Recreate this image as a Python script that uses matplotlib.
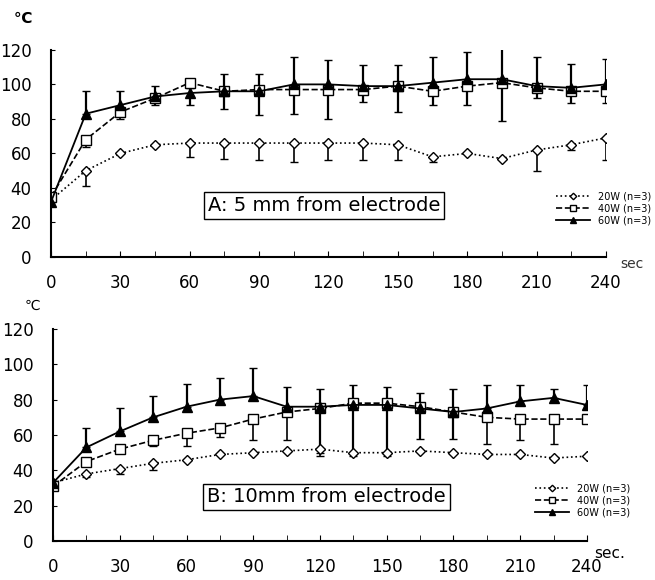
import numpy as np
import matplotlib
matplotlib.use("Agg")
import matplotlib.pyplot as plt
from matplotlib.ticker import MultipleLocator

nan = np.nan
t = [0, 15, 30, 45, 60, 75, 90, 105, 120, 135, 150, 165, 180, 195, 210, 225, 240]
labels = ["20W (n=3)", "40W (n=3)", "60W (n=3)"]

# ── Panel A: 5 mm from electrode ──────────────────────────────────────────────
a_20w = [33, 50, 60, 65, 66, 66, 66, 66, 66, 66, 65, 58, 60, 57, 62, 65, 69]
a_40w = [35, 68, 84, 92, 101, 96, 97, 97, 97, 97, 99, 96, 99, 101, 98, 96, 96]
a_60w = [32, 83, 88, 93, 95, 96, 96, 100, 100, 99, 99, 101, 103, 103, 99, 98, 100]
a_20w_lo = [nan, 41, nan, nan, 58, 57, 56, 55, 56, 56, 56, 55, nan, nan, 50, 62, 56]
a_40w_lo = [nan, 64, 80, nan, nan, nan, nan, nan, nan, nan, nan, nan, nan, nan, nan, nan, nan]
a_60w_hi = [nan, 96, 96, 99, 98, 106, 106, 116, 114, 111, 111, 116, 119, 122, 116, 112, 115]
a_60w_lo = [nan, nan, 82, 88, 88, 86, 82, 83, 80, 90, 84, 88, 88, 79, 92, 89, 89]

# ── Panel B: 10 mm from electrode ─────────────────────────────────────────────
b_20w = [33, 38, 41, 44, 46, 49, 50, 51, 52, 50, 50, 51, 50, 49, 49, 47, 48]
b_40w = [31, 45, 52, 57, 61, 64, 69, 73, 75, 78, 78, 76, 73, 70, 69, 69, 69]
b_60w = [33, 53, 62, 70, 76, 80, 82, 76, 76, 77, 77, 75, 73, 75, 79, 81, 77]
b_20w_lo = [nan, 36, 38, 40, nan, nan, nan, nan, 48, nan, nan, nan, nan, nan, nan, nan, nan]
b_40w_lo = [nan, nan, nan, 54, 54, 59, 57, 57, nan, nan, nan, nan, nan, 55, 57, 55, nan]
b_60w_hi = [nan, 64, 75, 82, 89, 92, 98, 87, 86, 88, 87, 84, 86, 88, 88, 86, 88]
b_60w_lo = [nan, nan, nan, nan, nan, nan, nan, nan, 50, 48, 48, 58, 58, nan, nan, nan, nan]


def err(mean, lo=None, hi=None):
    m = np.array(mean, float)
    down = np.zeros_like(m) if lo is None else np.nan_to_num(m - np.array(lo, float))
    up = np.zeros_like(m) if hi is None else np.nan_to_num(np.array(hi, float) - m)
    return [down, up]


def draw(ax, d20, d40, d60, e20, e40, e60, title, tx, ty, leg_y):
    c1 = ax.errorbar(t, d20, yerr=e20, color='black', linestyle=':', linewidth=1.2,
                     marker='D', markersize=5.5, markerfacecolor='white',
                     capsize=3, elinewidth=1.2)
    c2 = ax.errorbar(t, d40, yerr=e40, color='black', linestyle='--', linewidth=1.2,
                     marker='s', markersize=6.5, markerfacecolor='white',
                     capsize=3, elinewidth=1.2)
    c3 = ax.errorbar(t, d60, yerr=e60, color='black', linestyle='-', linewidth=1.3,
                     marker='^', markersize=6.5, markerfacecolor='black',
                     capsize=3, elinewidth=1.6)
    ax.set_xlim(0, 240)
    ax.set_ylim(0, 120)
    ax.xaxis.set_major_locator(MultipleLocator(30))
    ax.xaxis.set_minor_locator(MultipleLocator(15))
    ax.yaxis.set_major_locator(MultipleLocator(20))
    ax.spines['top'].set_visible(False)
    ax.spines['right'].set_visible(False)
    ax.spines['left'].set_linewidth(1.5)
    ax.spines['bottom'].set_linewidth(1.5)
    ax.tick_params(axis='x', which='both', direction='in', length=4, pad=12, labelsize=12)
    ax.tick_params(axis='y', direction='in', length=3, pad=14, labelsize=12)
    ax.text(tx, ty, title, fontsize=14, ha='center', va='center',
            bbox=dict(boxstyle='square,pad=0.2', facecolor='white', edgecolor='black', linewidth=1))
    # legend with only the line + marker, no error bars
    ax.legend([c1[0], c2[0], c3[0]], labels, loc='lower right',
              bbox_to_anchor=(1.09, leg_y), fontsize=7,
              frameon=False, handlelength=3.5, labelspacing=0.2, borderpad=0,
              markerscale=0.6)


fig = plt.figure(figsize=(6.55, 5.8), dpi=100)
ax1 = fig.add_axes([0.078, 0.557, 0.847, 0.357])
ax2 = fig.add_axes([0.081, 0.067, 0.815, 0.366])

draw(ax1, a_20w, a_40w, a_60w,
     err(a_20w, lo=a_20w_lo), err(a_40w, lo=a_40w_lo), err(a_60w, lo=a_60w_lo, hi=a_60w_hi),
     "A: 5 mm from electrode", 118, 30, 0.13)
draw(ax2, b_20w, b_40w, b_60w,
     err(b_20w, lo=b_20w_lo), err(b_40w, lo=b_40w_lo), err(b_60w, lo=b_60w_lo, hi=b_60w_hi),
     "B: 10mm from electrode", 123, 25, 0.09)

fig.text(0.035, 0.968, "℃", fontsize=11, fontweight='bold', ha='center', va='center')
fig.text(0.05, 0.472, "℃", fontsize=10, ha='center', va='center')
fig.text(0.965, 0.545, "sec", fontsize=10, ha='center', va='center', color='#333333')
fig.text(0.93, 0.045, "sec.", fontsize=11, ha='center', va='center')

fig.savefig("out.png", dpi=100)
